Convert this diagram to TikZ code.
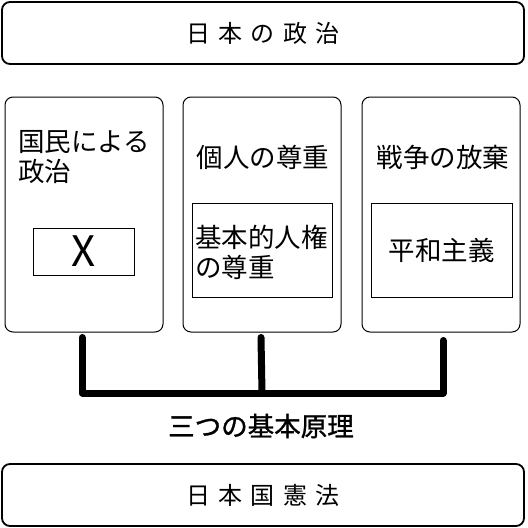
\documentclass[tikz,border=0pt]{standalone}
\usepackage{fontspec}
\setmainfont{Noto Sans CJK JP}
\usetikzlibrary{positioning}

\tikzset{
  frame/.style={draw, rounded corners=8pt, line width=1.8pt},
  column/.style={draw, rounded corners=8pt, line width=1pt,
                 minimum width=158pt, minimum height=235pt},
  inner/.style={draw, line width=1pt},
  label/.style={font=\fontsize{26.5}{30}\selectfont, inner sep=0pt},
  spaced/.style={font=\fontsize{24}{28}\selectfont\addfontfeature{LetterSpace=34}},
  bracket/.style={line width=7pt, line cap=round, line join=round}
}

\begin{document}
\begin{tikzpicture}[x=1pt, y=-1pt]
  \useasboundingbox (0,0) rectangle (528,528);

  % Blocks
  \node [frame, minimum width=522pt, minimum height=62pt] (politics) at (263,33) {};
  \node [spaced] at (politics.center) {日本の政治};

  \node [column] (polBox)   at (84,214.5)  {};
  \node [column] (indivBox) at (262,214.5) {};
  \node [column] (peaceBox) at (441,214.5) {};

  \node [label, align=left, anchor=west] (polHead) at (18,157) {国民による\\政治};
  \node [inner, minimum width=101pt, minimum height=47pt] (blank) at (83.5,251.5) {};
  \node [font=\fontsize{42}{42}\selectfont] at (blank.center) {X};

  \node [label] (indivHead) at (263,157) {個人の尊重};
  \node [inner, minimum width=140pt, minimum height=94pt] (rights) at (262,250) {};
  \node [label, align=left, anchor=west] at (195,252) {基本的人権\\の尊重};

  \node [label] (peaceHead) at (443,157) {戦争の放棄};
  \node [inner, minimum width=141pt, minimum height=94pt] (pacifism) at (441.5,250) {};
  \node [label] at (pacifism.center) {平和主義};

  \coordinate (joint) at (261,393);
  \node [label, font=\fontsize{26.5}{30}\selectfont\addfontfeature{FakeBold=1.2}] (principles) at (261,426) {三つの基本原理};

  \node [frame, minimum width=522pt, minimum height=62pt] (constitution) at (263,495) {};
  \node [spaced] at (constitution.center) {日本国憲法};

  % Connections
  \draw [bracket] ([xshift=-2pt, yshift=-5pt]polBox.south) |- (joint)
                  -| ([xshift=2pt, yshift=-8pt]peaceBox.south);
  \draw [bracket] ([xshift=-1pt, yshift=-5pt]indivBox.south) -- (indivBox.south |- joint);
\end{tikzpicture}
\end{document}
